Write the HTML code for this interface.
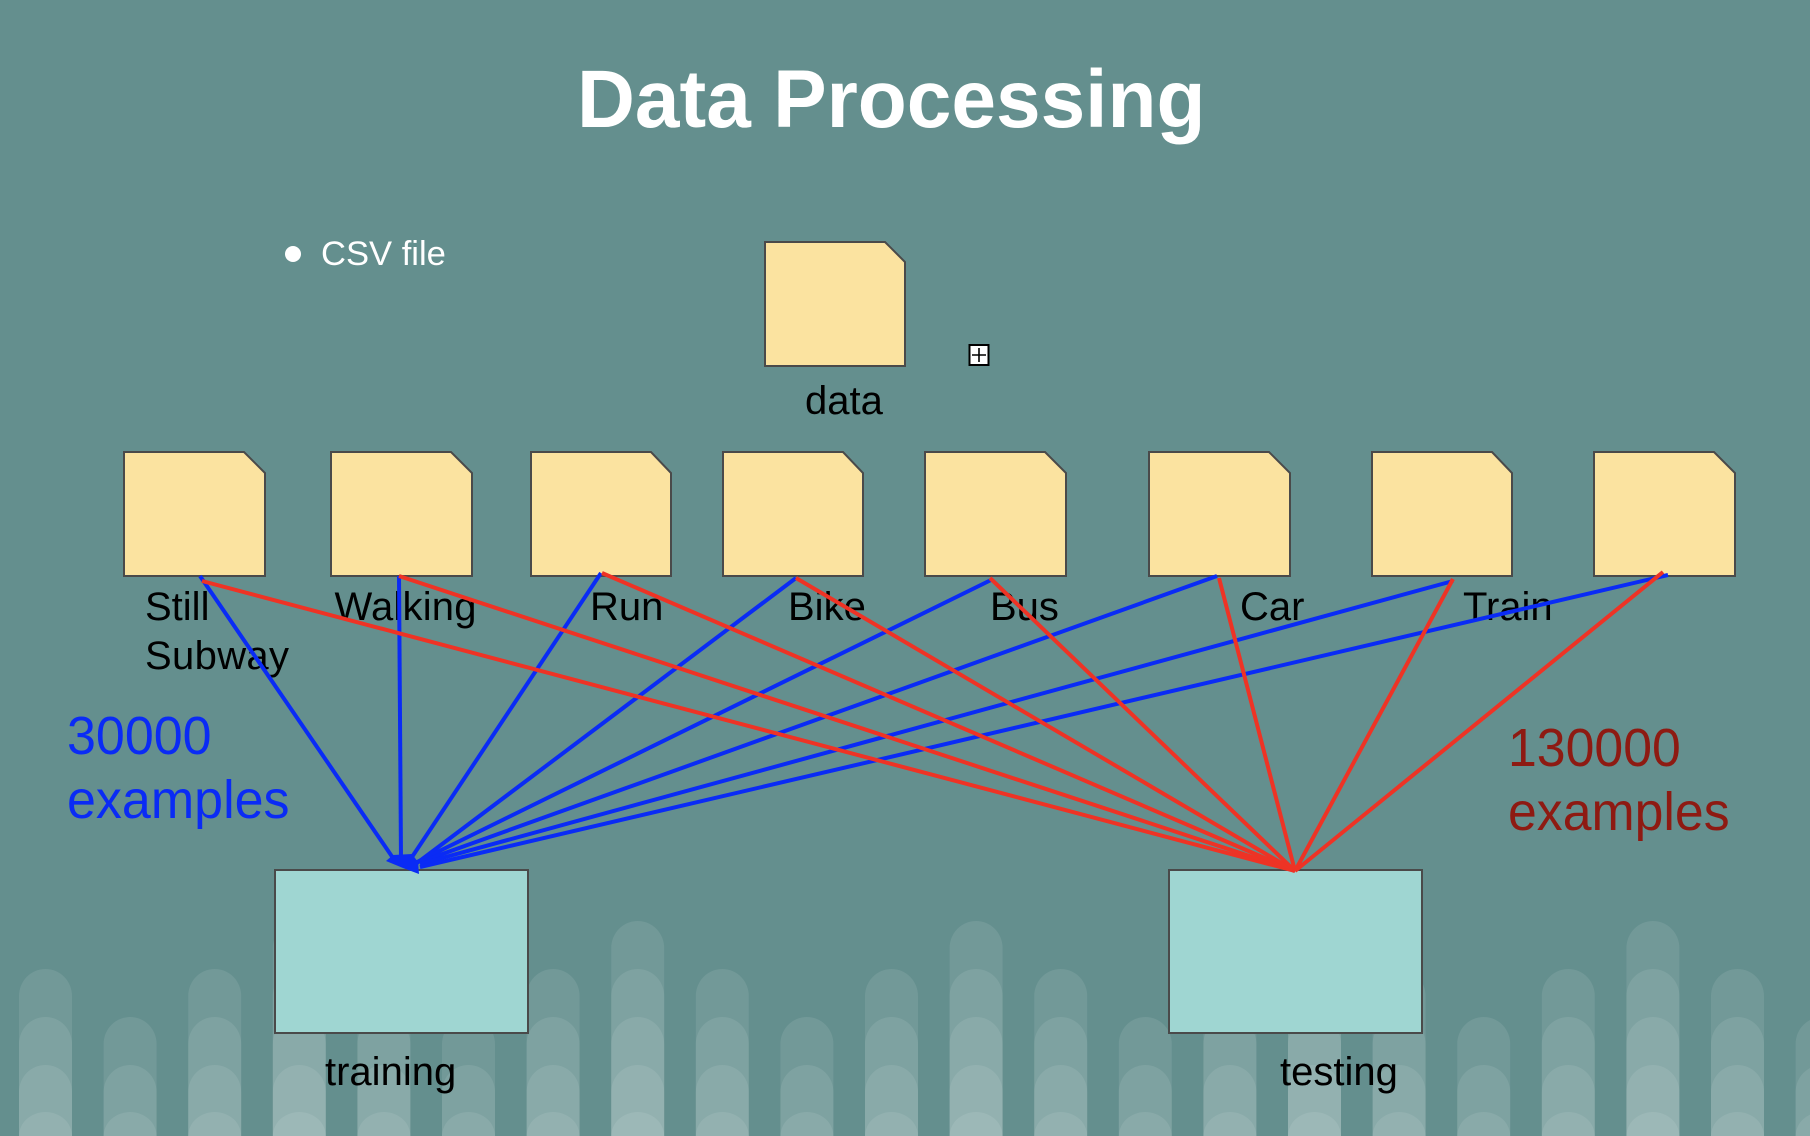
<!DOCTYPE html>
<html>
<head>
<meta charset="utf-8">
<style>
html,body{margin:0;padding:0;background:#648F8E;width:1810px;height:1136px;overflow:hidden;}
svg{display:block;}
text{font-family:"Liberation Sans",Arial,sans-serif;}
.l{font-size:40px;fill:#000;}
.doc{fill:#FBE3A0;stroke:#4a4a4a;stroke-width:2;}
.box{fill:#9FD6D2;stroke:#4a4a4a;stroke-width:2;}
.b{stroke:#0A2BF5;stroke-width:4;fill:none;}
.r{stroke:#EE3325;stroke-width:4;fill:none;}
</style>
</head>
<body>
<svg width="1810" height="1136" viewBox="0 0 1810 1136" xmlns="http://www.w3.org/2000/svg">
<defs>
<clipPath id="frame"><rect width="1810" height="1136"/></clipPath>
<g id="c3" fill="#fff" fill-opacity="0.09">
<path d="M0 1044A26.5 27 0 0 1 53 1044V1136H0Z"/>
<path d="M0 1092A26.5 27 0 0 1 53 1092V1136H0Z"/>
<path d="M0 1136A26.5 24 0 0 1 53 1136Z"/>
</g>
<g id="c4" fill="#fff" fill-opacity="0.09">
<path d="M0 996A26.5 27 0 0 1 53 996V1136H0Z"/>
<use href="#c3"/>
</g>
<g id="c5" fill="#fff" fill-opacity="0.09">
<path d="M0 948A26.5 27 0 0 1 53 948V1136H0Z"/>
<use href="#c4"/>
</g>
</defs>
<rect width="1810" height="1136" fill="#648F8E"/>
<g clip-path="url(#frame)">
<use href="#c4" x="19"/><use href="#c3" x="103.6"/><use href="#c4" x="188.2"/><use href="#c5" x="272.8"/>
<use href="#c4" x="357.4"/><use href="#c3" x="442"/><use href="#c4" x="526.6"/><use href="#c5" x="611.2"/>
<use href="#c4" x="695.8"/><use href="#c3" x="780.4"/><use href="#c4" x="865"/><use href="#c5" x="949.6"/>
<use href="#c4" x="1034.2"/><use href="#c3" x="1118.8"/><use href="#c4" x="1203.4"/><use href="#c5" x="1288"/>
<use href="#c4" x="1372.6"/><use href="#c3" x="1457.2"/><use href="#c4" x="1541.8"/><use href="#c5" x="1626.4"/>
<use href="#c4" x="1711"/><use href="#c3" x="1795.6"/>
</g>

<text transform="translate(577,127) scale(1,1.02)" font-size="80.2" font-weight="700" fill="#fff">Data Processing</text>
<circle cx="293" cy="254" r="8" fill="#fff"/>
<text x="321" y="265" font-size="34.6" fill="#fff">CSV file</text>

<path class="doc" d="M765 242H885L905 262V366H765Z"/>
<text class="l" x="805" y="414">data</text>
<rect x="969.5" y="345" width="19" height="20" fill="#fff" stroke="#000" stroke-width="2"/>
<path d="M972 355H986M979 348V362" stroke="#000" stroke-width="1.6" fill="none"/>

<path class="doc" d="M124 452H244L265 473V576H124Z"/>
<path class="doc" d="M331 452H451L472 473V576H331Z"/>
<path class="doc" d="M531 452H651L671 473V576H531Z"/>
<path class="doc" d="M723 452H843L863 473V576H723Z"/>
<path class="doc" d="M925 452H1045L1066 473V576H925Z"/>
<path class="doc" d="M1149 452H1269L1290 473V576H1149Z"/>
<path class="doc" d="M1372 452H1492L1512 473V576H1372Z"/>
<path class="doc" d="M1594 452H1714L1735 473V576H1594Z"/>

<rect class="box" x="275" y="870" width="253" height="163"/>
<rect class="box" x="1169" y="870" width="253" height="163"/>

<text class="l" x="145" y="620">Still</text>
<text class="l" x="145" y="669" textLength="144">Subway</text>
<text class="l" x="334.5" y="620" textLength="142">Walking</text>
<text class="l" x="590" y="620">Run</text>
<text class="l" x="788" y="620">Bike</text>
<text class="l" x="990" y="620">Bus</text>
<text class="l" x="1240" y="620">Car</text>
<text class="l" x="1463" y="620">Train</text>
<text class="l" x="325" y="1085">training</text>
<text class="l" x="1280" y="1085">testing</text>

<text transform="translate(67,754) scale(1,1.04)" font-size="52" fill="#0A2BF5">30000</text>
<text transform="translate(67,818) scale(1,1.04)" font-size="52" fill="#0A2BF5">examples</text>
<text transform="translate(1508,766) scale(1,1.04)" font-size="51.8" fill="#8E1A12">130000</text>
<text transform="translate(1508,830) scale(1,1.04)" font-size="51.8" fill="#8E1A12">examples</text>

<path class="b" d="M200 576L393 858"/>
<path class="b" d="M399 576L401 860"/>
<path class="b" d="M601 573L410 860"/>
<path class="b" d="M796 578L413 866"/>
<path class="b" d="M991 580L415 863"/>
<path class="b" d="M1217 576L420 862"/>
<path class="b" d="M1453 581L420 864"/>
<path class="b" d="M1668 575L420 867"/>
<polygon points="386,861 393,855 412,854 418,862 419,874 403,868" fill="#0A2BF5"/>

<path class="r" d="M202 581L1295 871"/>
<path class="r" d="M399 576L1295 871"/>
<path class="r" d="M602 573L1295 871"/>
<path class="r" d="M796 578L1295 871"/>
<path class="r" d="M990 578L1295 871"/>
<path class="r" d="M1219 578L1295 871"/>
<path class="r" d="M1453 579L1295 871"/>
<path class="r" d="M1663 572L1295 871"/>
</svg>
</body>
</html>
